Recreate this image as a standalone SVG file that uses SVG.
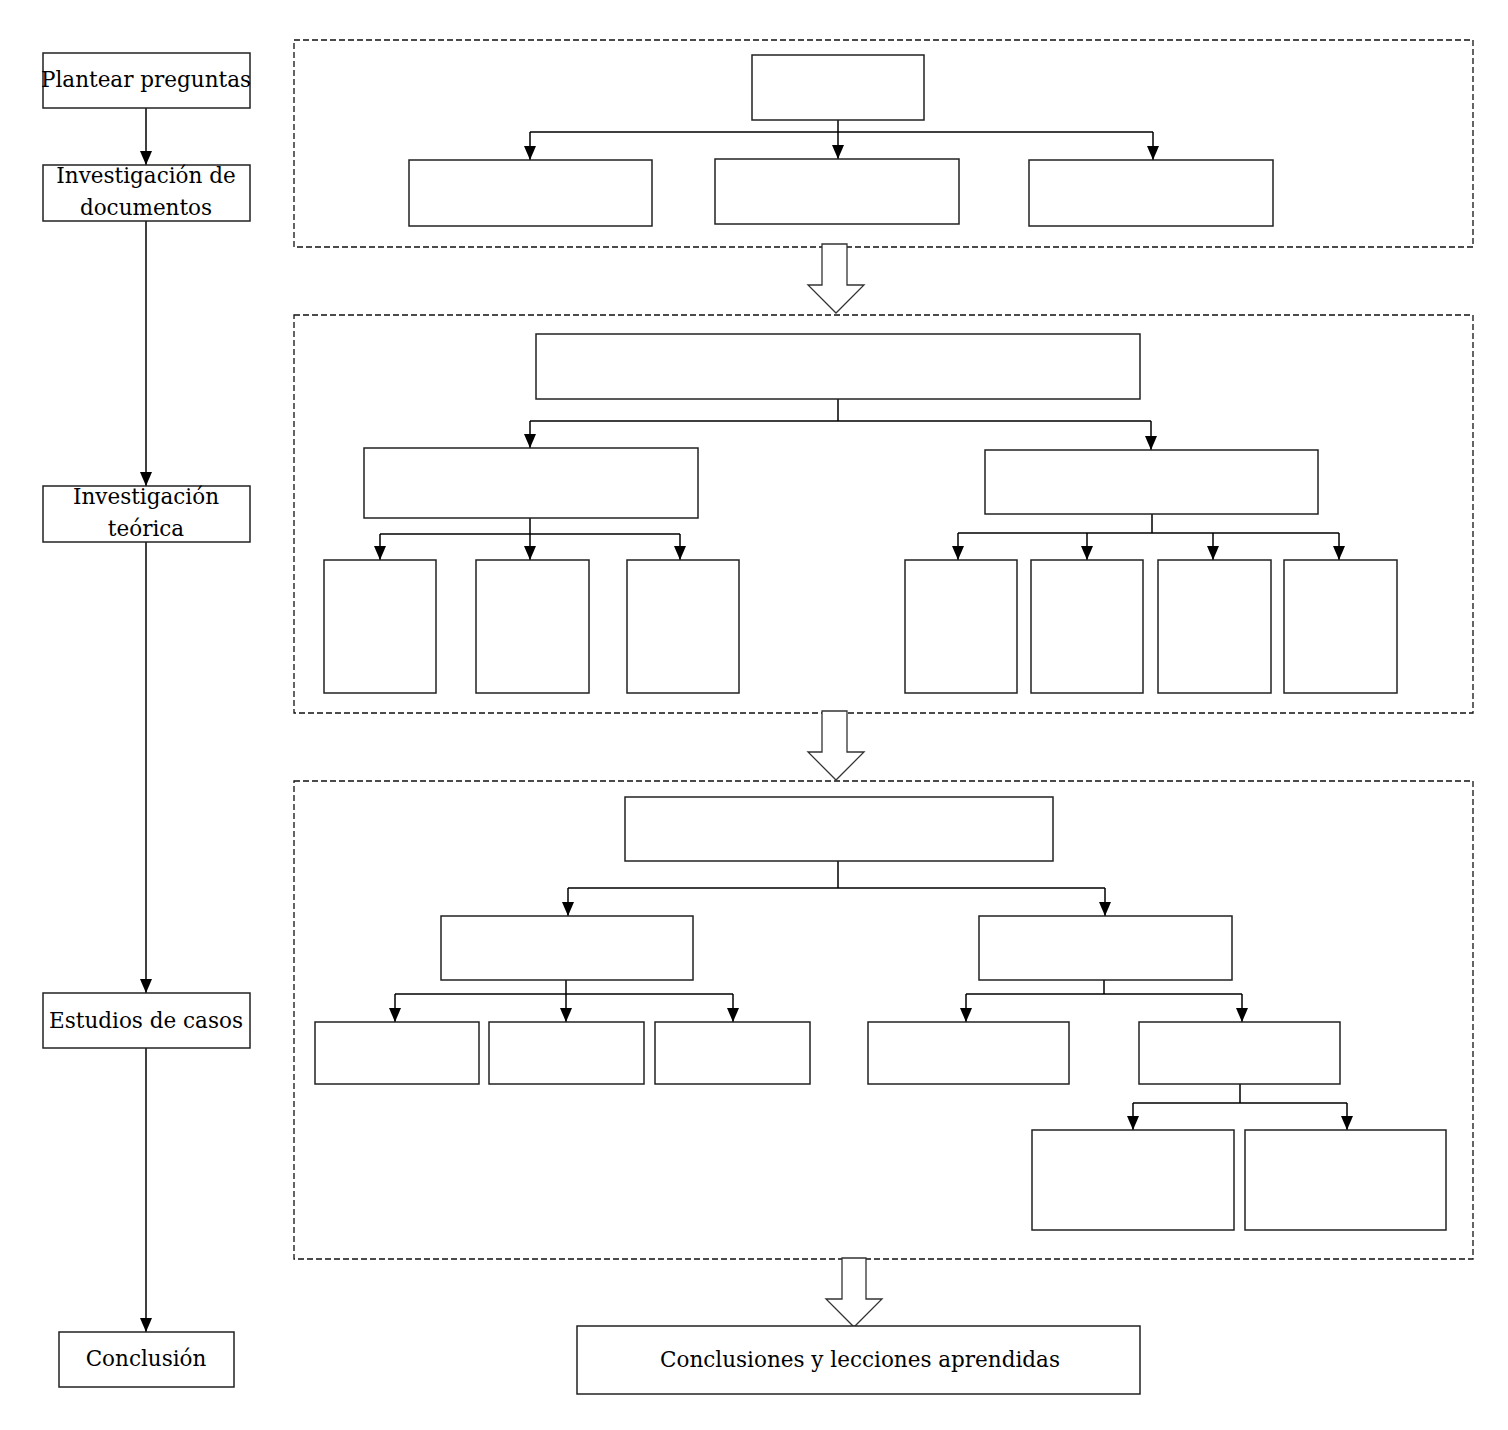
<svg xmlns="http://www.w3.org/2000/svg" width="1508" height="1430" viewBox="0 0 1508 1430">
<defs>
<style>
.n{fill:#fff;stroke:#222;stroke-width:1.5}
.d{fill:none;stroke:#111;stroke-width:1.3;stroke-dasharray:6 3}
.c{fill:none;stroke:#000;stroke-width:1.5}
.h{fill:#fff;stroke:#333;stroke-width:1.3}
.t{font-family:"DejaVu Serif","Liberation Serif",serif;font-size:21.5px;fill:#000;text-anchor:middle}
</style>
<marker id="b" markerUnits="userSpaceOnUse" markerWidth="14" markerHeight="12" viewBox="0 0 14 12" refX="14" refY="6" orient="auto">
<path d="M0,0 L14,6 L0,12 Z" fill="#000"/>
</marker>
</defs>
<rect width="1508" height="1430" fill="#fff"/>

<g id="containers">
<rect class="d" x="294" y="40" width="1179" height="207"/>
<rect class="d" x="294" y="315" width="1179" height="398"/>
<rect class="d" x="294" y="781" width="1179" height="478"/>
</g>

<g id="connectors">
<path class="c" marker-end="url(#b)" d="M146,108 V165"/>
<path class="c" marker-end="url(#b)" d="M146,221 V486"/>
<path class="c" marker-end="url(#b)" d="M146,542 V993"/>
<path class="c" marker-end="url(#b)" d="M146,1048 V1332"/>

<path class="c" d="M838,120 V132 M530,132 H1153"/>
<path class="c" marker-end="url(#b)" d="M530,132 V160"/>
<path class="c" marker-end="url(#b)" d="M838,132 V159"/>
<path class="c" marker-end="url(#b)" d="M1153,132 V160"/>

<path class="c" d="M838,399 V421 M530,421 H1151"/>
<path class="c" marker-end="url(#b)" d="M530,421 V448"/>
<path class="c" marker-end="url(#b)" d="M1151,421 V450"/>

<path class="c" d="M530,518 V534 M380,534 H680"/>
<path class="c" marker-end="url(#b)" d="M380,534 V560"/>
<path class="c" marker-end="url(#b)" d="M530,534 V560"/>
<path class="c" marker-end="url(#b)" d="M680,534 V560"/>

<path class="c" d="M1152,514 V533 M958,533 H1339"/>
<path class="c" marker-end="url(#b)" d="M958,533 V560"/>
<path class="c" marker-end="url(#b)" d="M1087,533 V560"/>
<path class="c" marker-end="url(#b)" d="M1213,533 V560"/>
<path class="c" marker-end="url(#b)" d="M1339,533 V560"/>

<path class="c" d="M838,861 V888 M568,888 H1105"/>
<path class="c" marker-end="url(#b)" d="M568,888 V916"/>
<path class="c" marker-end="url(#b)" d="M1105,888 V916"/>

<path class="c" d="M566,980 V994 M395,994 H733"/>
<path class="c" marker-end="url(#b)" d="M395,994 V1022"/>
<path class="c" marker-end="url(#b)" d="M566,994 V1022"/>
<path class="c" marker-end="url(#b)" d="M733,994 V1022"/>

<path class="c" d="M1104,980 V994 M966,994 H1242"/>
<path class="c" marker-end="url(#b)" d="M966,994 V1022"/>
<path class="c" marker-end="url(#b)" d="M1242,994 V1022"/>

<path class="c" d="M1240,1084 V1103 M1133,1103 H1347"/>
<path class="c" marker-end="url(#b)" d="M1133,1103 V1130"/>
<path class="c" marker-end="url(#b)" d="M1347,1103 V1130"/>

<path class="h" d="M822,244 H847 V285 H864 L836,313 L808,285 H822 Z"/>
<path class="h" d="M822,711 H847 V752 H864 L836,780 L808,752 H822 Z"/>
<path class="h" d="M842,1258 H866 V1299 H882 L854,1327 L826,1299 H842 Z"/>
</g>

<g id="n-plantear"><rect class="n" x="43" y="53" width="207" height="55"/><text class="t" x="146" y="87">Plantear preguntas</text></g>
<g id="n-documentos"><rect class="n" x="43" y="165" width="207" height="56"/><text class="t" x="146" y="183">Investigación de</text><text class="t" x="146" y="215">documentos</text></g>
<g id="n-teorica"><rect class="n" x="43" y="486" width="207" height="56"/><text class="t" x="146" y="504">Investigación</text><text class="t" x="146" y="536">teórica</text></g>
<g id="n-casos"><rect class="n" x="43" y="993" width="207" height="55"/><text class="t" x="146" y="1028">Estudios de casos</text></g>
<g id="n-conclusion"><rect class="n" x="59" y="1332" width="175" height="55"/><text class="t" x="146" y="1366">Conclusión</text></g>

<g id="n-b1-top"><rect class="n" x="752" y="55" width="172" height="65"/></g>
<g id="n-b1-c1"><rect class="n" x="409" y="160" width="243" height="66"/></g>
<g id="n-b1-c2"><rect class="n" x="715" y="159" width="244" height="65"/></g>
<g id="n-b1-c3"><rect class="n" x="1029" y="160" width="244" height="66"/></g>

<g id="n-b2-top"><rect class="n" x="536" y="334" width="604" height="65"/></g>
<g id="n-b2-l"><rect class="n" x="364" y="448" width="334" height="70"/></g>
<g id="n-b2-r"><rect class="n" x="985" y="450" width="333" height="64"/></g>
<g id="n-b2-l1"><rect class="n" x="324" y="560" width="112" height="133"/></g>
<g id="n-b2-l2"><rect class="n" x="476" y="560" width="113" height="133"/></g>
<g id="n-b2-l3"><rect class="n" x="627" y="560" width="112" height="133"/></g>
<g id="n-b2-r1"><rect class="n" x="905" y="560" width="112" height="133"/></g>
<g id="n-b2-r2"><rect class="n" x="1031" y="560" width="112" height="133"/></g>
<g id="n-b2-r3"><rect class="n" x="1158" y="560" width="113" height="133"/></g>
<g id="n-b2-r4"><rect class="n" x="1284" y="560" width="113" height="133"/></g>

<g id="n-b3-top"><rect class="n" x="625" y="797" width="428" height="64"/></g>
<g id="n-b3-l"><rect class="n" x="441" y="916" width="252" height="64"/></g>
<g id="n-b3-r"><rect class="n" x="979" y="916" width="253" height="64"/></g>
<g id="n-b3-l1"><rect class="n" x="315" y="1022" width="164" height="62"/></g>
<g id="n-b3-l2"><rect class="n" x="489" y="1022" width="155" height="62"/></g>
<g id="n-b3-l3"><rect class="n" x="655" y="1022" width="155" height="62"/></g>
<g id="n-b3-r1"><rect class="n" x="868" y="1022" width="201" height="62"/></g>
<g id="n-b3-r2"><rect class="n" x="1139" y="1022" width="201" height="62"/></g>
<g id="n-b3-r2a"><rect class="n" x="1032" y="1130" width="202" height="100"/></g>
<g id="n-b3-r2b"><rect class="n" x="1245" y="1130" width="201" height="100"/></g>

<g id="n-final"><rect class="n" x="577" y="1326" width="563" height="68"/><text class="t" x="860" y="1367">Conclusiones y lecciones aprendidas</text></g>
</svg>
